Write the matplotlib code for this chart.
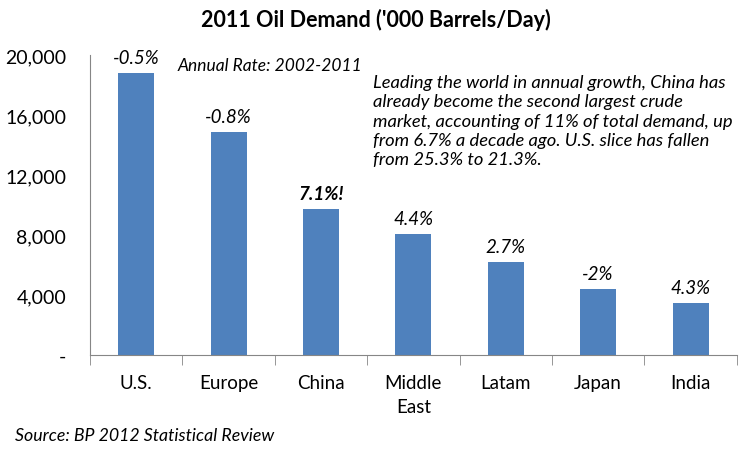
import matplotlib.pyplot as plt
import numpy as np
from matplotlib.ticker import FuncFormatter

regions = ['U.S.', 'Europe', 'China', 'Middle\nEast', 'Latam', 'Japan', 'India']
demand = [18835, 14870, 9750, 8070, 6220, 4420, 3470]
growth = ['-0.5%', '-0.8%', '7.1%!', '4.4%', '2.7%', '-2%', '4.3%']

plt.rcParams['font.family'] = ['Lato', 'DejaVu Sans']

fig = plt.figure(figsize=(7.51, 4.52), dpi=100)
ax = fig.add_axes([0.1198, 0.2124, 0.8612, 0.6636])

x = np.arange(len(regions))
bars = ax.bar(x, demand, width=0.39, color='#4F81BD', zorder=2)

for b, lab in zip(bars, growth):
    bold = lab.endswith('!')
    ax.annotate(lab, (b.get_x() + b.get_width() / 2, b.get_height()),
                xytext=(0, 5), textcoords='offset points', ha='center', va='bottom',
                fontsize=13.5, style='italic', fontweight='bold' if bold else 'normal')

ax.set_xlim(-0.5, len(regions) - 0.5)
ax.set_ylim(0, 20000)
ax.set_yticks(range(0, 20001, 4000))
ax.yaxis.set_major_formatter(FuncFormatter(lambda v, p: '-' if v == 0 else '{:,.0f}'.format(v)))
ax.set_xticks(x)
ax.set_xticklabels(regions, fontsize=13.5, linespacing=1.5)
ax.set_xticks(np.arange(-0.5, len(regions)), minor=True)
ax.tick_params(axis='x', which='major', length=0, pad=14)
ax.tick_params(axis='x', which='minor', length=7, color='#868686', direction='out')
ax.tick_params(axis='y', length=0, labelsize=14, pad=17)

for s in ['top', 'right']:
    ax.spines[s].set_visible(False)
for s in ['left', 'bottom']:
    ax.spines[s].set_color('#868686')

fig.text(0.5, 0.955, "2011 Oil Demand ('000 Barrels/Day)", ha='center', va='center',
         fontsize=15.5, fontweight='bold')
fig.text(0.237, 0.853, 'Annual Rate: 2002-2011', ha='left', va='center',
         fontsize=12.5, style='italic')
fig.text(0.497, 0.834,
         'Leading the world in annual growth, China has\n'
         'already become the second largest crude\n'
         'market, accounting of 11% of total demand, up\n'
         'from 6.7% a decade ago. U.S. slice has fallen\n'
         'from 25.3% to 21.3%.',
         ha='left', va='top', fontsize=13.2, style='italic', linespacing=1.25)
fig.text(0.02, 0.035, 'Source: BP 2012 Statistical Review', ha='left', va='center',
         fontsize=12.8, style='italic')

fig.savefig('out.png', dpi=100)
